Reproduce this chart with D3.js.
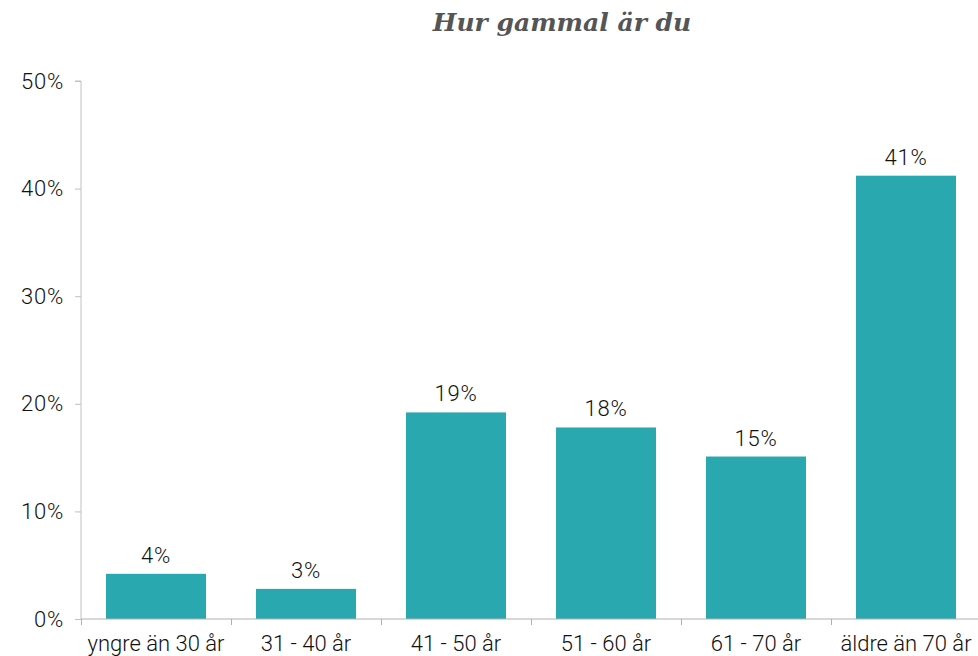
<!DOCTYPE html>
<html><head><meta charset="utf-8">
<script src="https://cdn.jsdelivr.net/npm/d3@7"></script>
<style>body{margin:0;background:#fff}svg{display:block}</style>
</head><body>
<svg id="c" width="978" height="656"></svg>
<script>
const categories = ["yngre än 30 år","31 - 40 år","41 - 50 år","51 - 60 år","61 - 70 år","äldre än 70 år"];
const values = [4.2, 2.8, 19.2, 17.8, 15.1, 41.2];
const valueLabels = ["4%","3%","19%","18%","15%","41%"];
const yTicks = [0,10,20,30,40,50];
const title = "Hur gammal är du";

const svg = d3.select("#c");
const x0 = 81, x1 = 981, yTop = 81, yBot = 619;
const x = d3.scaleBand().domain(categories).range([x0,x1]).paddingInner(1/3).paddingOuter(1/6);
const y = d3.scaleLinear().domain([0,50]).range([yBot,yTop]);
const lightFont = "Roboto, sans-serif";

svg.append("text").attr("x",562).attr("y",31).attr("text-anchor","middle")
  .attr("font-family","'DejaVu Serif', serif").attr("font-weight","bold").attr("font-style","italic")
  .attr("font-size",25).attr("fill","#555").text(title);

// y axis
const ya = svg.append("g").attr("transform",`translate(${x0},0)`)
  .call(d3.axisLeft(y).tickValues(yTicks).tickSize(6).tickPadding(11).tickFormat(d=>d+"%"));
ya.select(".domain").attr("stroke","#c0c0c0").attr("d",`M-6,${yTop}H0V${yBot}`);
ya.selectAll(".tick line").attr("stroke","#c0c0c0");
ya.selectAll(".tick text").attr("font-family",lightFont).attr("font-weight",300)
  .attr("font-size",22).attr("letter-spacing",0.8).attr("fill","#111");

// bars
svg.append("g").selectAll("rect").data(values).join("rect")
  .attr("x",(d,i)=>x(categories[i])).attr("width",x.bandwidth())
  .attr("y",d=>y(d)).attr("height",d=>yBot-y(d))
  .attr("fill","#2aa8b0");

// x axis
const bandStep = x.step();
const xa = svg.append("g").attr("transform",`translate(0,${yBot})`);
xa.append("path").attr("d",`M${x0},0H${x1}`).attr("stroke","#b0b0b0").attr("fill","none");
xa.selectAll("line").data(d3.range(categories.length+1)).join("line")
  .attr("x1",i=>x0+i*bandStep+0.5).attr("x2",i=>x0+i*bandStep+0.5).attr("y1",0).attr("y2",6)
  .attr("stroke","#b0b0b0");
xa.selectAll("text").data(categories).join("text")
  .attr("x",d=>x(d)+x.bandwidth()/2).attr("y",32).attr("text-anchor","middle")
  .attr("font-family",lightFont).attr("font-weight",300).attr("font-size",22).attr("fill","#111").text(d=>d);

// value labels
svg.append("g").selectAll("text").data(values).join("text")
  .attr("x",(d,i)=>x(categories[i])+x.bandwidth()/2).attr("y",d=>y(d)-11)
  .attr("text-anchor","middle").attr("font-family",lightFont).attr("font-weight",300)
  .attr("font-size",22).attr("letter-spacing",0.8).attr("fill","#111").text((d,i)=>valueLabels[i]);
</script>
</body></html>
